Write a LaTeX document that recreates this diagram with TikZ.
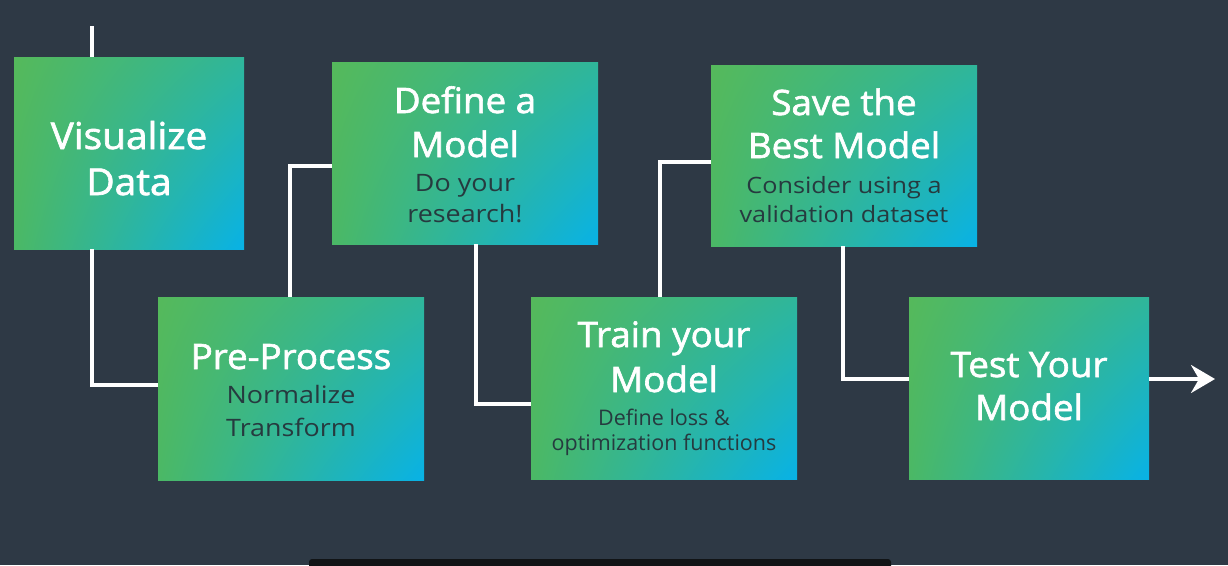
\documentclass[tikz,border=0pt]{standalone}
\usepackage{fontspec}
\setmainfont{Open Sans}
\newfontfamily\ttlfam{Open Sans}[FakeBold=1.8, FakeStretch=1.05]
\newfontfamily\subfam{Open Sans}[FakeStretch=1.12]
\usetikzlibrary{shadings,arrows.meta,calc}
\definecolor{bg}{HTML}{2E3945}
\definecolor{gUL}{HTML}{55B95B}
\definecolor{gLL}{HTML}{4BB865}
\definecolor{gUR}{HTML}{2FB69A}
\definecolor{gLR}{HTML}{08B2E6}
\definecolor{subtxt}{HTML}{263A3F}
\definecolor{capbar}{HTML}{111416}
\tikzset{
  box/.style={rectangle, inner sep=0pt, outer sep=0pt, anchor=north west,
    upper left=gUL, lower left=gLL, upper right=gUR, lower right=gLR},
  ttl/.style={anchor=base, text=white, inner sep=0pt, font=\ttlfam\fontsize{35pt}{42pt}\selectfont},
  bigttl/.style={ttl, font=\ttlfam\fontsize{37pt}{44pt}\selectfont},
  sub/.style={anchor=base, text=subtxt, inner sep=0pt, font=\subfam\fontsize{24pt}{29pt}\selectfont},
  subsm/.style={anchor=base, text=subtxt, inner sep=0pt, font=\fontsize{21.5pt}{26pt}\selectfont},
  link/.style={draw=white, line width=3.5pt},
}
\begin{document}
\begin{tikzpicture}[x=1pt,y=-1pt]
\fill[bg] (0,0) rectangle (1228,565);
\useasboundingbox (0,0) rectangle (1228,565);
% boxes
\node[box, minimum width=230pt, minimum height=192pt] (vis) at (14,57) {};
\node[box, minimum width=266pt, minimum height=183pt] (pre) at (158,297) {};
\node[box, minimum width=266pt, minimum height=182pt] (def) at (332,62) {};
\node[box, minimum width=266pt, minimum height=182pt] (train) at (531,297) {};
\node[box, minimum width=266pt, minimum height=181pt] (save) at (711,65) {};
\node[box, minimum width=240pt, minimum height=182pt] (test) at (909,297) {};
% texts
\node[bigttl] (vis1) at (129,149) {Visualize};
\node[bigttl] (vis2) at (129,195) {Data};
\node[ttl] (pre1) at (291,369) {Pre-Process};
\node[sub] (pre2) at (291,403) {Normalize};
\node[sub] (pre3) at (291,436) {Transform};
\node[ttl] (def1) at (465,113) {Define a};
\node[ttl] (def2) at (465,157) {Model};
\node[sub] (def3) at (465,191) {Do your};
\node[sub] (def4) at (465,222) {research!};
\node[ttl] (tr1) at (664,347) {Train your};
\node[ttl] (tr2) at (664,392) {Model};
\node[subsm] (tr3) at (664,425) {Define loss \&};
\node[subsm] (tr4) at (664,450) {optimization functions};
\node[ttl] (sv1) at (844,115) {Save the};
\node[ttl] (sv2) at (844,158) {Best Model};
\node[sub, font=\subfam\fontsize{22.5pt}{27pt}\selectfont] (sv3) at (844,193) {Consider using a};
\node[sub, font=\subfam\fontsize{22.5pt}{27pt}\selectfont] (sv4) at (844,222) {validation dataset};
\node[ttl] (ts1) at (1029,377) {Test Your};
\node[ttl] (ts2) at (1029,420) {Model};
% connectors
\coordinate (start) at (92,26);
\coordinate (endpt) at (1215,379);
\draw[link] (start) -- (start |- vis.north);
\draw[link] (start |- vis.south) |- ([yshift=3.5pt]pre.west);
\draw[link] ($(pre.north west)+(132,0)$) |- ([yshift=-13pt]def.west);
\draw[link] ($(def.south west)+(144,0)$) |- ([yshift=-16pt]train.west);
\draw[link] ($(train.north west)+(129,0)$) |- ([yshift=-6.5pt]save.west);
\draw[link] ($(save.south west)+(132,0)$) |- ([yshift=9pt]test.west);
\draw[link, -{Stealth[length=24pt,width=28pt,inset=8pt]}] ([yshift=9pt]test.east) -- (endpt);
% caption bar
\fill[capbar, rounded corners=3pt] (309,559) rectangle (891,570);
\end{tikzpicture}
\end{document}
